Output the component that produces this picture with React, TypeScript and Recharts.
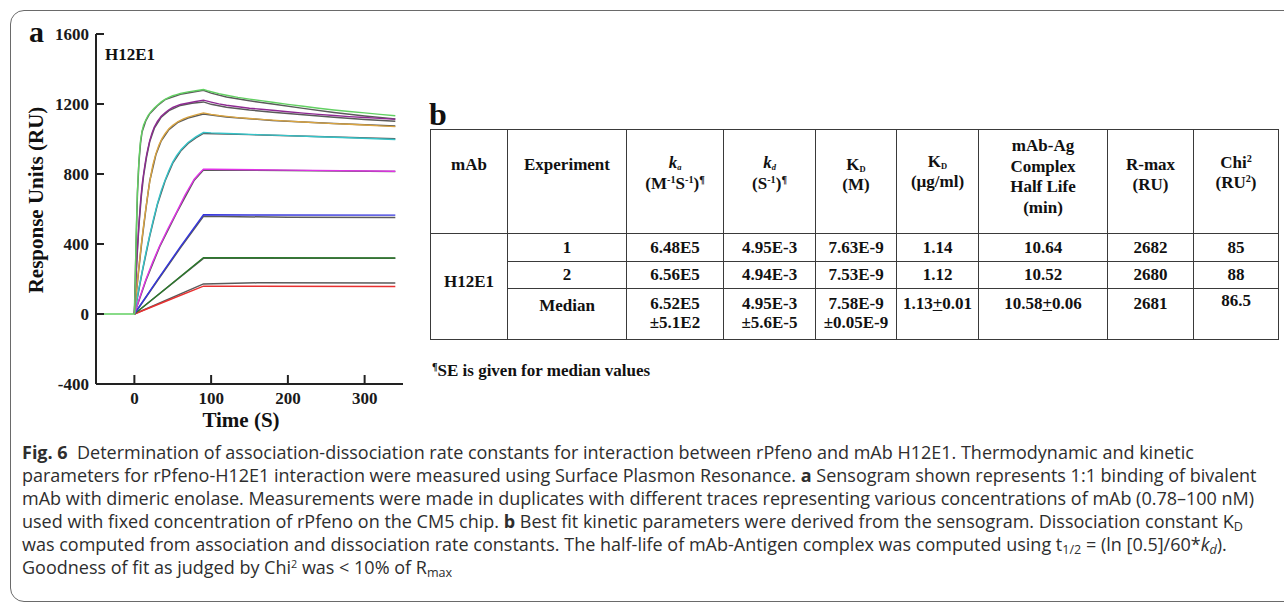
import React from "react";
import { LineChart, Line, XAxis, YAxis } from "recharts";

type Pt = { t: number; v: number };
const P = (t: number, v: number): Pt => ({ t, v });

const timeTicks = [0, 100, 200, 300];
const responseTicks = [-400, 0, 400, 800, 1200, 1600];

// sensogram traces, RU vs time (s)
const traceGreen = [P(-50, 0), P(0, 0), P(1, 150), P(2, 380), P(3, 560), P(4, 700), P(5, 800), P(6, 880), P(7, 940), P(8, 990), P(10, 1045), P(12, 1080), P(15, 1110), P(18, 1135), P(22, 1158), P(26, 1177), P(30, 1193), P(35, 1212), P(40, 1226), P(45, 1238), P(50, 1247), P(55, 1254), P(60, 1260), P(70, 1269), P(80, 1276), P(90, 1283), P(95, 1276), P(100, 1270), P(110, 1259), P(120, 1250), P(135, 1238), P(150, 1228), P(165, 1219), P(180, 1210), P(200, 1198), P(220, 1187), P(240, 1176), P(260, 1166), P(280, 1157), P(300, 1149), P(320, 1141), P(340, 1133)];
const tracePurple = [P(0, 0), P(2, 210), P(4, 380), P(6, 520), P(8, 640), P(10, 735), P(12, 800), P(14, 860), P(16, 910), P(18, 952), P(20, 990), P(23, 1035), P(26, 1068), P(30, 1100), P(35, 1130), P(40, 1150), P(45, 1167), P(50, 1180), P(55, 1189), P(60, 1197), P(70, 1206), P(80, 1214), P(90, 1222), P(100, 1211), P(110, 1201), P(120, 1193), P(135, 1184), P(150, 1176), P(165, 1170), P(180, 1164), P(200, 1156), P(220, 1148), P(240, 1141), P(260, 1134), P(280, 1128), P(300, 1123), P(320, 1118), P(340, 1113)];
const traceGold = [P(0, 0), P(3, 145), P(6, 275), P(9, 395), P(12, 505), P(15, 605), P(18, 700), P(21, 780), P(24, 850), P(28, 915), P(32, 965), P(36, 1002), P(40, 1030), P(45, 1058), P(50, 1078), P(57, 1100), P(64, 1115), P(70, 1125), P(80, 1138), P(90, 1149), P(100, 1141), P(110, 1134), P(120, 1129), P(135, 1122), P(150, 1117), P(165, 1112), P(180, 1108), P(200, 1102), P(220, 1097), P(240, 1092), P(260, 1088), P(280, 1084), P(300, 1080), P(320, 1075), P(340, 1071)];
const traceCyan = [P(0, 0), P(5, 125), P(10, 240), P(15, 350), P(20, 450), P(25, 545), P(30, 630), P(35, 705), P(40, 765), P(45, 820), P(50, 868), P(55, 905), P(61, 940), P(70, 980), P(80, 1012), P(90, 1038), P(100, 1035), P(130, 1030), P(160, 1025), P(200, 1019), P(240, 1013), P(280, 1007), P(340, 997)];
const traceMagenta = [P(0, 0), P(8, 108), P(15, 197), P(24, 298), P(33, 390), P(44, 490), P(55, 582), P(66, 680), P(78, 770), P(84, 800), P(90, 828), P(100, 827), P(200, 822), P(340, 816)];
const traceBlue = [P(0, 0), P(30, 195), P(60, 385), P(90, 567), P(150, 566), P(340, 565)];
const traceDarkGreen = [P(0, 0), P(45, 160), P(90, 322), P(340, 320)];
const traceRed = [P(0, 0), P(45, 80), P(90, 159), P(340, 157)];

// 1:1 model fits (grey)
const fitGreen = [P(0, 0), P(2, 360), P(4, 690), P(6, 870), P(8, 975), P(10, 1040), P(15, 1105), P(20, 1145), P(30, 1190), P(40, 1225), P(60, 1256), P(90, 1278), P(100, 1262), P(120, 1240), P(150, 1218), P(180, 1200), P(220, 1175), P(260, 1152), P(300, 1132), P(340, 1115)];
const fitPurple = [P(0, 0), P(3, 290), P(6, 510), P(9, 670), P(12, 790), P(16, 900), P(20, 985), P(26, 1062), P(35, 1125), P(45, 1162), P(60, 1192), P(75, 1204), P(90, 1212), P(100, 1198), P(120, 1182), P(150, 1166), P(180, 1153), P(220, 1138), P(260, 1124), P(300, 1112), P(340, 1102)];
const fitGold = [P(0, 0), P(5, 225), P(10, 425), P(15, 600), P(20, 760), P(28, 910), P(35, 990), P(45, 1054), P(57, 1096), P(70, 1120), P(90, 1143), P(120, 1126), P(180, 1106), P(260, 1088), P(340, 1074)];
const fitCyan = [P(0, 0), P(10, 235), P(20, 445), P(30, 625), P(40, 760), P(50, 862), P(61, 935), P(70, 975), P(80, 1007), P(90, 1032), P(150, 1025), P(260, 1012), P(340, 1002)];
const fitMagenta = [P(0, 0), P(15, 192), P(33, 385), P(55, 578), P(78, 765), P(90, 823), P(200, 820), P(340, 814)];
const fitBlue = [P(0, 0), P(30, 190), P(60, 378), P(90, 558), P(200, 553), P(340, 551)];
const fitDarkGreen = [P(0, 0), P(90, 318), P(340, 318)];
const fitRed = [P(0, 0), P(90, 172), P(160, 178), P(340, 177)];

const fits = [fitGreen, fitPurple, fitGold, fitCyan, fitMagenta, fitBlue, fitDarkGreen, fitRed];
const traces: [Pt[], string][] = [
  [traceRed, "#e83030"],
  [traceDarkGreen, "#2b7a2b"],
  [traceBlue, "#3535dd"],
  [traceMagenta, "#e033e6"],
  [traceCyan, "#35c3c8"],
  [traceGold, "#d9a441"],
  [tracePurple, "#8e2a92"],
  [traceGreen, "#62d062"],
];

const serif = '"Liberation Serif", "Times New Roman", serif';
const sans = '"Open Sans", "Noto Sans", sans-serif';
const tickStyle = { fontFamily: serif, fontWeight: 700, fontSize: 17, fill: "#1a1a1a" };

const Sup = ({ children }: { children: React.ReactNode }) => (
  <span style={{ fontSize: "0.6em", verticalAlign: "0.55em", lineHeight: 0 }}>{children}</span>
);
const Sub = ({ children, size = "0.6em" }: { children: React.ReactNode; size?: string }) => (
  <span style={{ fontSize: size, verticalAlign: "-0.25em", lineHeight: 0 }}>{children}</span>
);

const cell: React.CSSProperties = {
  border: "1.5px solid #3a3a3a",
  textAlign: "center",
  padding: 0,
  fontFamily: serif,
  fontWeight: 700,
  fontSize: 17,
  color: "#111",
  lineHeight: "20px",
};
const head = (pt: number, lh = 20): React.CSSProperties => ({ ...cell, verticalAlign: "top", paddingTop: pt, lineHeight: lh + "px" });
const body3 = (pt: number): React.CSSProperties => ({ ...cell, verticalAlign: "top", paddingTop: pt, lineHeight: "19px" });

const colWidths = [77, 119, 97, 92, 81, 82, 129, 86, 85];
const row1 = ["1", "6.48E5", "4.95E-3", "7.63E-9", "1.14", "10.64", "2682", "85"];
const row2 = ["2", "6.56E5", "4.94E-3", "7.53E-9", "1.12", "10.52", "2680", "88"];

function Sensogram() {
  return (
    <LineChart width={420} height={440} margin={{ top: 34, right: 17, left: 0, bottom: 26 }}>
      <XAxis
        dataKey="t"
        type="number"
        domain={[-50, 350]}
        ticks={timeTicks}
        allowDataOverflow
        height={30}
        tick={tickStyle}
        tickSize={-9}
        tickMargin={17}
        axisLine={{ stroke: "#222", strokeWidth: 2 }}
        tickLine={{ stroke: "#222", strokeWidth: 2 }}
      />
      <YAxis
        type="number"
        domain={[-400, 1600]}
        ticks={responseTicks}
        allowDataOverflow
        width={96}
        tick={tickStyle}
        tickSize={-8}
        tickMargin={15}
        axisLine={{ stroke: "#222", strokeWidth: 2 }}
        tickLine={{ stroke: "#222", strokeWidth: 2 }}
      />
      {fits.map((d, i) => (
        <Line key={"f" + i} data={d} dataKey="v" type="linear" stroke="#5a5a5a" strokeWidth={1.5} dot={false} isAnimationActive={false} />
      ))}
      {traces.map(([d, c], i) => (
        <Line key={"t" + i} data={d} dataKey="v" type="linear" stroke={c} strokeWidth={1.4} dot={false} isAnimationActive={false} />
      ))}
    </LineChart>
  );
}

function KineticsTable() {
  return (
    <table style={{ position: "absolute", left: 430, top: 129, width: 848, borderCollapse: "collapse", tableLayout: "fixed" }}>
      <colgroup>
        {colWidths.map((w, i) => (
          <col key={i} style={{ width: w }} />
        ))}
      </colgroup>
      <tbody>
        <tr style={{ height: 104 }}>
          <td style={head(25)}>mAb</td>
          <td style={head(25)}>Experiment</td>
          <td style={head(22, 21)}>
            <div><i>k</i><Sub size="0.5em"><i>a</i></Sub></div>
            <div>(M<Sup>-1</Sup>S<Sup>-1</Sup>)<Sup>¶</Sup></div>
          </td>
          <td style={head(22, 21)}>
            <div><i>k</i><Sub size="0.5em"><i>d</i></Sub></div>
            <div>(S<Sup>-1</Sup>)<Sup>¶</Sup></div>
          </td>
          <td style={head(25)}>
            <div>K<Sub size="0.5em">D</Sub></div>
            <div>(M)</div>
          </td>
          <td style={head(22)}>
            <div>K<Sub size="0.5em">D</Sub></div>
            <div>(µg/ml)</div>
          </td>
          <td style={head(6, 20.7)}>
            <div>mAb-Ag</div>
            <div>Complex</div>
            <div>Half Life</div>
            <div>(min)</div>
          </td>
          <td style={head(25)}>
            <div>R-max</div>
            <div>(RU)</div>
          </td>
          <td style={head(23)}>
            <div>Chi<Sup>2</Sup></div>
            <div>(RU<Sup>2</Sup>)</div>
          </td>
        </tr>
        <tr style={{ height: 28 }}>
          <td rowSpan={3} style={{ ...cell, verticalAlign: "middle", paddingBottom: 10 }}>H12E1</td>
          {row1.map((s, i) => (
            <td key={i} style={{ ...cell, verticalAlign: "middle" }}>{s}</td>
          ))}
        </tr>
        <tr style={{ height: 27 }}>
          {row2.map((s, i) => (
            <td key={i} style={{ ...cell, verticalAlign: "middle" }}>{s}</td>
          ))}
        </tr>
        <tr style={{ height: 51 }}>
          <td style={body3(7)}>Median</td>
          <td style={body3(5)}><div>6.52E5</div><div>±5.1E2</div></td>
          <td style={body3(5)}><div>4.95E-3</div><div>±5.6E-5</div></td>
          <td style={body3(5)}><div>7.58E-9</div><div>±0.05E-9</div></td>
          <td style={body3(5)}>1.13<u>+</u>0.01</td>
          <td style={body3(5)}>10.58<u>+</u>0.06</td>
          <td style={body3(5)}>2681</td>
          <td style={body3(2)}>86.5</td>
        </tr>
      </tbody>
    </table>
  );
}

const capLine: React.CSSProperties = { position: "absolute", left: 22, whiteSpace: "nowrap", lineHeight: "23px", height: 23 };

export default function App() {
  return (
    <div style={{ position: "absolute", left: 0, top: 0, width: 1284, height: 605, background: "#fff", overflow: "hidden" }}>
      <div style={{ position: "absolute", left: 10, top: 10, width: 1300, height: 592, border: "1.5px solid #6a6a6a", borderRadius: 14, boxSizing: "border-box" }} />

      <div style={{ position: "absolute", left: 0, top: 0 }}>
        <Sensogram />
      </div>
      <div style={{ position: "absolute", left: 29, top: 14, fontFamily: serif, fontWeight: 700, fontSize: 30, lineHeight: "36px", color: "#111" }}>a</div>
      <div style={{ position: "absolute", left: 105, top: 44, fontFamily: serif, fontWeight: 700, fontSize: 17, lineHeight: "22px", color: "#111" }}>H12E1</div>
      <div style={{ position: "absolute", left: 36, top: 200, transform: "translate(-50%, -50%) rotate(-90deg)", whiteSpace: "nowrap", fontFamily: serif, fontWeight: 700, fontSize: 21, lineHeight: "24px", color: "#111" }}>
        Response Units (RU)
      </div>
      <div style={{ position: "absolute", left: 241, top: 420, transform: "translate(-50%, -50%)", whiteSpace: "nowrap", fontFamily: serif, fontWeight: 700, fontSize: 21, lineHeight: "24px", color: "#111" }}>
        Time (S)
      </div>

      <div style={{ position: "absolute", left: 429, top: 95, fontFamily: serif, fontWeight: 700, fontSize: 32, lineHeight: "38px", color: "#111" }}>b</div>
      <KineticsTable />
      <div style={{ position: "absolute", left: 432, top: 360, fontFamily: serif, fontWeight: 700, fontSize: 17, lineHeight: "22px", color: "#111" }}>
        <Sup>¶</Sup>SE is given for median values
      </div>

      <div style={{ fontFamily: sans, fontSize: 18, color: "#2e2e2e" }}>
        <div style={{ ...capLine, top: 441 }}>
          <b>Fig. 6</b>&nbsp;&nbsp;Determination of association-dissociation rate constants for interaction between rPfeno and mAb H12E1. Thermodynamic and kinetic
        </div>
        <div style={{ ...capLine, top: 464 }}>
          parameters for rPfeno-H12E1 interaction were measured using Surface Plasmon Resonance. <b>a</b> Sensogram shown represents 1:1 binding of bivalent
        </div>
        <div style={{ ...capLine, top: 487 }}>
          mAb with dimeric enolase. Measurements were made in duplicates with different traces representing various concentrations of mAb (0.78–100 nM)
        </div>
        <div style={{ ...capLine, top: 510 }}>
          used with fixed concentration of rPfeno on the CM5 chip. <b>b</b> Best fit kinetic parameters were derived from the sensogram. Dissociation constant K<Sub size="0.7em">D</Sub>
        </div>
        <div style={{ ...capLine, top: 533 }}>
          was computed from association and dissociation rate constants. The half-life of mAb-Antigen complex was computed using t<Sub size="0.7em">1/2</Sub> = (ln [0.5]/60*<i>k<Sub size="0.7em">d</Sub></i>).
        </div>
        <div style={{ ...capLine, top: 556 }}>
          Goodness of fit as judged by Chi<Sup>2</Sup> was &lt; 10% of R<Sub size="0.7em">max</Sub>
        </div>
      </div>
    </div>
  );
}
